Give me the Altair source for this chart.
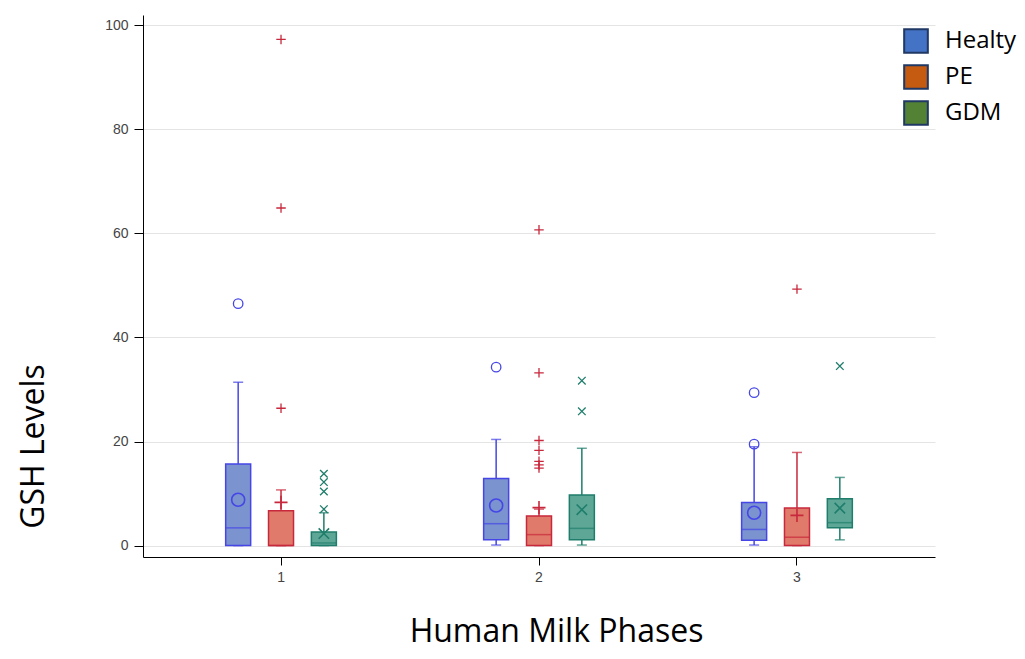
import altair as alt
import pandas as pd

groups = ["Healty", "PE", "GDM"]
phases = ["1", "2", "3"]

# box statistics (phase x group)
box_phase = ["1", "1", "1", "2", "2", "2", "3", "3", "3"]
box_group = ["Healty", "PE", "GDM"] * 3
q1 = [0.0, 0.0, 0.0, 1.1, 0.0, 1.1, 1.0, 0.0, 3.4]
median = [3.4, 0.0, 0.5, 4.2, 2.1, 3.3, 3.1, 1.6, 4.4]
q3 = [15.7, 6.7, 2.6, 12.9, 5.7, 9.7, 8.3, 7.2, 9.0]
whisk_lo = [0.0, 0.0, 0.0, 0.1, 0.0, 0.1, 0.1, 0.0, 1.1]
whisk_hi = [31.4, 10.7, 6.3, 20.4, 7.0, 18.7, 19.0, 17.9, 13.1]
mean = [8.8, 8.3, 2.3, 7.7, 7.3, 6.9, 6.3, 5.8, 7.2]

# outliers
out_phase = ["1", "1", "1", "1", "1", "1", "1", "1",
             "2", "2", "2", "2", "2", "2", "2", "2", "2", "2",
             "3", "3", "3", "3"]
out_group = ["Healty", "PE", "PE", "PE", "GDM", "GDM", "GDM", "GDM",
             "Healty", "PE", "PE", "PE", "PE", "PE", "PE", "PE", "GDM", "GDM",
             "Healty", "Healty", "PE", "GDM"]
out_value = [46.5, 26.4, 64.9, 97.3, 7.0, 10.4, 12.2, 13.8,
             34.3, 14.9, 15.5, 16.2, 18.3, 20.2, 33.2, 60.7, 25.8, 31.7,
             19.5, 29.4, 49.3, 34.5]

stroke_colors = ["#4646e6", "#c8283c", "#1f7d6b"]
fill_colors = ["#7b93cf", "#e07a6a", "#5ea797"]
legend_colors = ["#4472c4", "#c55a11", "#548235"]

circle_path = "circle"
plus_path = "M-1,0L1,0M0,-1L0,1"
x_path = "M-0.8,-0.8L0.8,0.8M-0.8,0.8L0.8,-0.8"

box_df = pd.DataFrame({
    "phase": box_phase, "group": box_group, "q1": q1, "median": median,
    "q3": q3, "lo": whisk_lo, "hi": whisk_hi, "mean": mean,
})
out_df = pd.DataFrame({"phase": out_phase, "group": out_group, "value": out_value})

x_scale = alt.Scale(domain=phases, paddingInner=0, paddingOuter=0.035)
# two empty slots around the groups keep the dodged boxes close to the phase tick
xoff_scale = alt.Scale(domain=["_l"] + groups + ["_r"], paddingInner=0, paddingOuter=0.51)
y_scale = alt.Scale(domain=[-2.2, 102], nice=False, zero=False)
stroke_scale = alt.Scale(domain=groups, range=stroke_colors)
fill_scale = alt.Scale(domain=groups, range=fill_colors)
shape_scale = alt.Scale(domain=groups, range=[circle_path, plus_path, x_path])

x_axis = alt.Axis(
    labelAngle=0, tickSize=8, tickColor="#000", domainColor="#000", labelPadding=5,
    labelFontSize=14, labelFont="Liberation Sans", labelColor="#444", grid=False,
    titleFont="Open Sans", titleFontSize=32, titleFontWeight="normal", titleColor="#000",
    titleX=413, titleY=84, titleAlign="center", titleBaseline="alphabetic",
)
y_axis = alt.Axis(
    values=[0, 20, 40, 60, 80, 100], grid=True, gridColor="#e4e4e4", domainColor="#000",
    tickColor="#000", tickSize=9, labelPadding=6, labelFontSize=14,
    labelFont="Liberation Sans", labelColor="#444",
    titleFont="Open Sans", titleFontSize=32, titleFontWeight="normal", titleColor="#000",
    titleAngle=-90, titleX=-100, titleY=431, titleAlign="center", titleBaseline="alphabetic",
)

X = alt.X("phase:N", scale=x_scale, axis=x_axis, title="Human Milk Phases")
XO = alt.XOffset("group:N", scale=xoff_scale)

base = alt.Chart(box_df)

whiskers = base.mark_rule(strokeWidth=1.5).encode(
    x=X, xOffset=XO,
    y=alt.Y("lo:Q", scale=y_scale, axis=y_axis, title="GSH Levels"),
    y2="hi:Q",
    color=alt.Color("group:N", scale=stroke_scale, legend=None),
)
caps_hi = base.mark_tick(size=10, thickness=1.5).encode(
    x=X, xOffset=XO, y=alt.Y("hi:Q", scale=y_scale),
    color=alt.Color("group:N", scale=stroke_scale, legend=None),
)
caps_lo = base.mark_tick(size=10, thickness=1.5).encode(
    x=X, xOffset=XO, y=alt.Y("lo:Q", scale=y_scale),
    color=alt.Color("group:N", scale=stroke_scale, legend=None),
)
boxes = base.mark_bar(size=25, strokeWidth=1.5).encode(
    x=X, xOffset=XO, y=alt.Y("q1:Q", scale=y_scale), y2="q3:Q",
    fill=alt.Fill("group:N", scale=fill_scale, legend=None),
    stroke=alt.Stroke("group:N", scale=stroke_scale, legend=None),
)
medians = base.mark_tick(size=25, thickness=1.5).encode(
    x=X, xOffset=XO, y=alt.Y("median:Q", scale=y_scale),
    color=alt.Color("group:N", scale=stroke_scale, legend=None),
)
means = base.mark_point(filled=False, strokeWidth=1.6, size=170, opacity=1).encode(
    x=X, xOffset=XO, y=alt.Y("mean:Q", scale=y_scale),
    color=alt.Color("group:N", scale=stroke_scale, legend=None),
    shape=alt.Shape("group:N", scale=shape_scale, legend=None),
)
outliers = alt.Chart(out_df).mark_point(filled=False, strokeWidth=1.3, size=90, opacity=1).encode(
    x=X, xOffset=XO, y=alt.Y("value:Q", scale=y_scale),
    color=alt.Color("group:N", scale=stroke_scale, legend=None),
    shape=alt.Shape("group:N", scale=shape_scale, legend=None),
)
legend_layer = base.transform_filter("false").mark_square(
    filled=True, stroke="#1f3864", strokeWidth=2, opacity=1
).encode(
    fill=alt.Fill(
        "group:N",
        scale=alt.Scale(domain=groups, range=legend_colors),
        legend=alt.Legend(
            title=None, orient="none", legendX=760, legendY=13, padding=0,
            symbolType="square", symbolSize=560, symbolStrokeColor="#1f3864",
            symbolStrokeWidth=2, symbolOpacity=1,
            labelFont="Open Sans", labelFontSize=24, labelColor="#000",
            labelOffset=16, rowPadding=4,
        ),
    )
)

chart = alt.layer(
    whiskers, caps_hi, caps_lo, boxes, medians, means, outliers, legend_layer
).resolve_scale(fill="independent").properties(
    width=792, height=542,
    autosize=alt.AutoSizeParams(type="none"),
    padding={"left": 135, "top": 7, "right": 82, "bottom": 94},
).configure_view(strokeWidth=0)

chart.save("out.html", embed_options={"renderer": "svg", "actions": False})
